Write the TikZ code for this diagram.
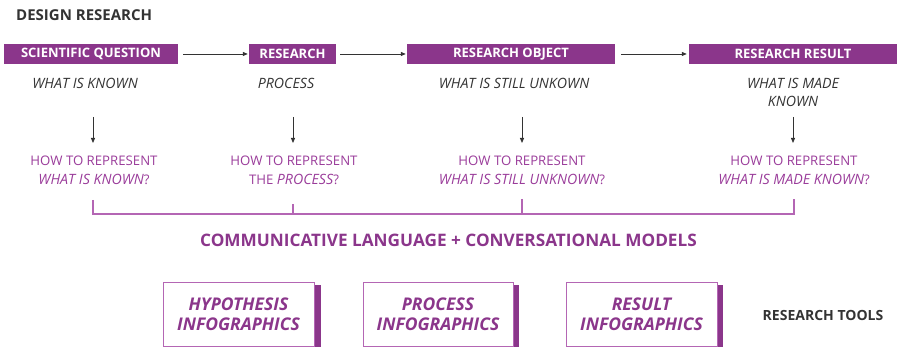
\documentclass[tikz,border=0pt]{standalone}
\usepackage{fontspec}
\setmainfont{Open Sans}
\usetikzlibrary{arrows.meta}
\definecolor{boxpurple}{HTML}{8B368B}
\definecolor{txtpurple}{HTML}{9A3C9A}
\definecolor{linepurple}{HTML}{B466B4}
\definecolor{darkgray}{HTML}{333333}
\newcommand{\itl}[1]{{\fontsize{14.2}{19}\selectfont\itshape #1}}
\tikzset{
  topbox/.style={fill=boxpurple, text=white, inner sep=0pt, minimum height=20pt,
    font=\fontsize{13}{14}\selectfont\bfseries},
  graylbl/.style={text=darkgray, align=center, inner sep=0pt,
    font=\fontsize{14.2}{18}\selectfont\itshape},
  howlbl/.style={text=txtpurple, align=center, inner sep=0pt,
    font=\fontsize{13.2}{19}\selectfont},
  arr/.style={draw=darkgray, line width=0.8pt, -{Triangle[length=5pt,width=4pt]}},
  brk/.style={draw=linepurple, line width=1.2pt},
  toolbox/.style={draw=linepurple, fill=white, line width=1pt, minimum height=64pt,
    inner sep=0pt, align=center, text=boxpurple,
    font=\fontsize{17.5}{20}\selectfont\bfseries\itshape},
  shadowbar/.style={fill=boxpurple, draw=none},
  heading/.style={text=darkgray, inner sep=0pt, font=\fontsize{15}{18}\selectfont\bfseries},
}
\begin{document}
\begin{tikzpicture}[x=1pt,y=-1pt]
\useasboundingbox (0,0) rectangle (901,347);
% heading
\node[heading, anchor=west] (title) at (16,15) {DESIGN RESEARCH};
% top boxes
\node[topbox, minimum width=174pt] (q) at (91,54) {SCIENTIFIC QUESTION};
\node[topbox, minimum width=87pt] (r) at (292.5,54) {RESEARCH};
\node[topbox, minimum width=208pt] (o) at (511,54) {RESEARCH OBJECT};
\node[topbox, minimum width=208pt] (res) at (793,54) {RESEARCH RESULT};
\draw[arr, shorten <=5pt, shorten >=1pt] (q) -- (r);
\draw[arr, shorten <=4pt, shorten >=1pt] (r) -- (o);
\draw[arr, shorten <=6pt, shorten >=2pt] (o) -- (res);
% gray labels
\node[graylbl] (k1) at (85,83) {WHAT IS KNOWN};
\node[graylbl] (k2) at (286,83) {PROCESS};
\node[graylbl] (k3) at (514,83) {WHAT IS STILL UNKOWN};
\node[graylbl] (k4) at (793,92) {WHAT IS MADE\\KNOWN};
% vertical arrows
\coordinate (a1s) at (93,117); \coordinate (a1e) at (93,143);
\coordinate (a2s) at (293,117); \coordinate (a2e) at (293,143);
\coordinate (a3s) at (522,117); \coordinate (a3e) at (522,143);
\coordinate (a4s) at (793,117); \coordinate (a4e) at (793,143);
\draw[arr] (a1s) -- (a1e);
\draw[arr] (a2s) -- (a2e);
\draw[arr] (a3s) -- (a3e);
\draw[arr] (a4s) -- (a4e);
% how to represent
\node[howlbl] (h1) at (94,170.5) {HOW TO REPRESENT\\\itl{WHAT IS KNOWN}?};
\node[howlbl] (h2) at (294,170.5) {HOW TO REPRESENT\\THE \itl{PROCESS}?};
\node[howlbl] (h3) at (522,170.5) {HOW TO REPRESENT\\\itl{WHAT IS STILL UNKNOWN}?};
\node[howlbl] (h4) at (794,170.5) {HOW TO REPRESENT\\\itl{WHAT IS MADE KNOWN}?};
% bracket
\coordinate (t1) at (93,200); \coordinate (b1) at (93,214);
\coordinate (t2) at (293,204); \coordinate (b2) at (293,214);
\coordinate (t3) at (522,199); \coordinate (b3) at (522,214);
\coordinate (t4) at (794,199); \coordinate (b4) at (794,214);
\draw[brk] (t1) -- (b1) -- (b4) -- (t4);
\draw[brk] (t2) -- (b2);
\draw[brk] (t3) -- (b3);
% communicative
\node[text=boxpurple, inner sep=0pt, font=\fontsize{17.2}{20}\selectfont\bfseries] (comm) at (448.5,240.5) {COMMUNICATIVE LANGUAGE + CONVERSATIONAL MODELS};
% tool boxes
\fill[shadowbar] (314,285) rectangle (321,350);
\fill[shadowbar] (513,285) rectangle (519,350);
\fill[shadowbar] (717,285) rectangle (723,350);
\node[toolbox, minimum width=151pt] (tb1) at (238.5,314) {HYPOTHESIS\\INFOGRAPHICS};
\node[toolbox, minimum width=150pt] (tb2) at (438,314) {PROCESS\\INFOGRAPHICS};
\node[toolbox, minimum width=151pt] (tb3) at (641.5,314) {RESULT\\INFOGRAPHICS};
\node[heading, font=\fontsize{14}{18}\selectfont\bfseries] (tools) at (823,315) {RESEARCH TOOLS};
\end{tikzpicture}
\end{document}
